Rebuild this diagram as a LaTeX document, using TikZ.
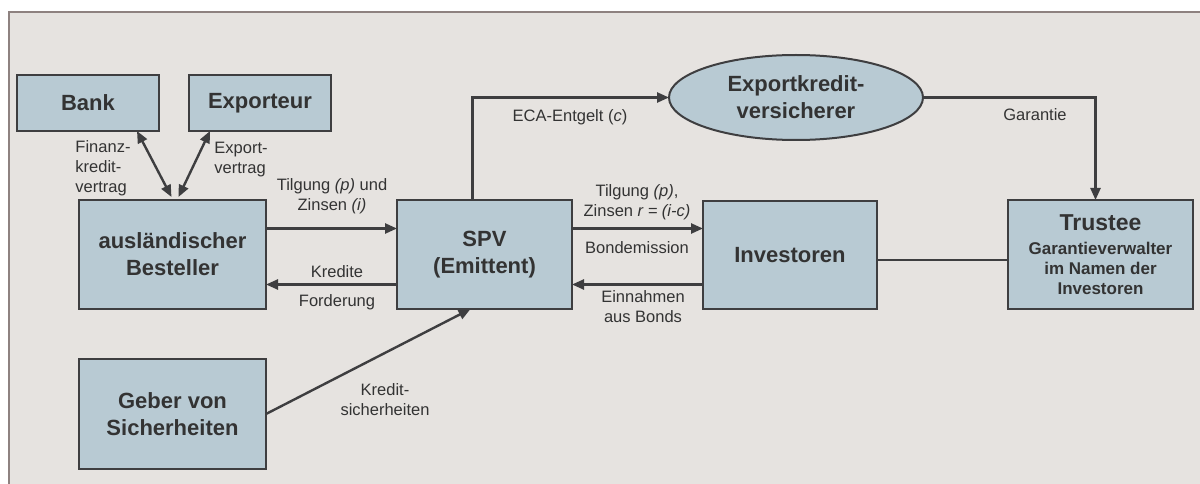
\documentclass[tikz,border=0pt]{standalone}
\usepackage{fontspec}
\setmainfont{Liberation Sans}
\usetikzlibrary{arrows.meta,shapes.geometric,calc}
\definecolor{bgc}{HTML}{E6E3E0}
\definecolor{framec}{HTML}{8E8280}
\definecolor{boxc}{HTML}{B8CAD3}
\definecolor{edgec}{HTML}{3E3E40}
\definecolor{txtc}{HTML}{333333}
\newcommand{\smallbf}{\fontsize{17}{20}\selectfont}
\tikzset{
  box/.style={draw=edgec, line width=2pt, fill=boxc, inner sep=0pt, outer sep=0pt,
    align=center, text=txtc, font=\fontsize{22}{27}\selectfont\bfseries},
  oval/.style={box, ellipse},
  lbl/.style={text=txtc, font=\fontsize{16.5}{20}\selectfont, inner sep=0pt, align=center},
  conn/.style={draw=edgec, line width=2.4pt},
  arr/.style={conn, -{Triangle[length=12pt,width=10pt]}},
  darr/.style={conn, {Triangle[length=12pt,width=10pt]}-{Triangle[length=12pt,width=10pt]}}
}
\begin{document}
\begin{tikzpicture}[x=1pt,y=-1pt]
\useasboundingbox (0,0) rectangle (1200,484);
\fill[bgc] (9,12) rectangle (1200,484);
\draw[framec, line width=2.5pt] (9,484) -- (9,12) -- (1200,12);

% nodes
\node[box, minimum width=142, minimum height=56] (bank) at (88,103) {Bank};
\node[box, minimum width=142, minimum height=56] (exp) at (260,103) {Exporteur};
\node[box, minimum width=187, minimum height=109] (best) at (172.5,254.5) {ausländischer\\Besteller};
\node[box, minimum width=175, minimum height=109] (spv) at (484.5,254.5) {SPV\\(Emittent)};
\node[box, minimum width=174, minimum height=108] (inv) at (790,255) {Investoren};
\node[box, minimum width=185, minimum height=109] (trust) at (1100.5,254.5)
  {\fontsize{23}{27}\selectfont Trustee\\[-3pt]\smallbf Garantieverwalter\\[-7pt]\smallbf im Namen der\\[-7pt]\smallbf Investoren};
\node[box, minimum width=187, minimum height=110] (geber) at (172.5,414) {Geber von\\Sicherheiten};
\node[oval, minimum width=254, minimum height=85] (eca) at (796,97.5) {Exportkredit-\\versicherer};

% connectors
\draw[darr] ($(bank.south east)+(-22,0)$) -- ($(best.north)+(-1,-3)$);
\draw[darr] ($(exp.south west)+(21,0)$) -- ($(best.north)+(6,-3)$);
\draw[arr] ($(best.east)+(0,-26)$) -- ($(spv.west)+(0,-26)$);
\draw[arr] ($(spv.west)+(0,30)$) -- ($(best.east)+(0,30)$);
\draw[arr] ($(spv.east)+(0,-26)$) -- ($(inv.west)+(0,-26.5)$);
\draw[arr] ($(inv.west)+(0,29.5)$) -- ($(spv.east)+(0,30)$);
\draw[conn] ($(inv.east)+(0,5)$) -- ($(trust.west)+(0,5.5)$);
\draw[arr] ($(spv.north)+(-12,0)$) |- (eca.west);
\draw[arr] (eca.east) -| ($(trust.north)+(-5,0)$);
\draw[arr] (geber.east) -- ($(spv.south)+(-14,0)$);

% labels
\node[lbl, align=left] (l1) at (103,168) {Finanz-\\kredit-\\vertrag};
\node[lbl, align=left] (l2) at (241,160) {Export-\\vertrag};
\node[lbl] (l3) at (332,196) {Tilgung \textit{(p)} und\\Zinsen \textit{(i)}};
\node[lbl] (l4) at (337,272) {Kredite};
\node[lbl] (l5) at (337,302) {Forderung};
\node[lbl] (l6) at (637,202) {Tilgung \textit{(p)},\\Zinsen \textit{r = (i-c)}};
\node[lbl] (l7) at (637,248) {Bondemission};
\node[lbl] (l8) at (643,307) {Einnahmen\\aus Bonds};
\node[lbl] (l9) at (570,117) {ECA-Entgelt (\textit{c})};
\node[lbl] (l10) at (1035,115) {Garantie};
\node[lbl] (l11) at (385,400) {Kredit-\\sicherheiten};
\end{tikzpicture}
\end{document}
